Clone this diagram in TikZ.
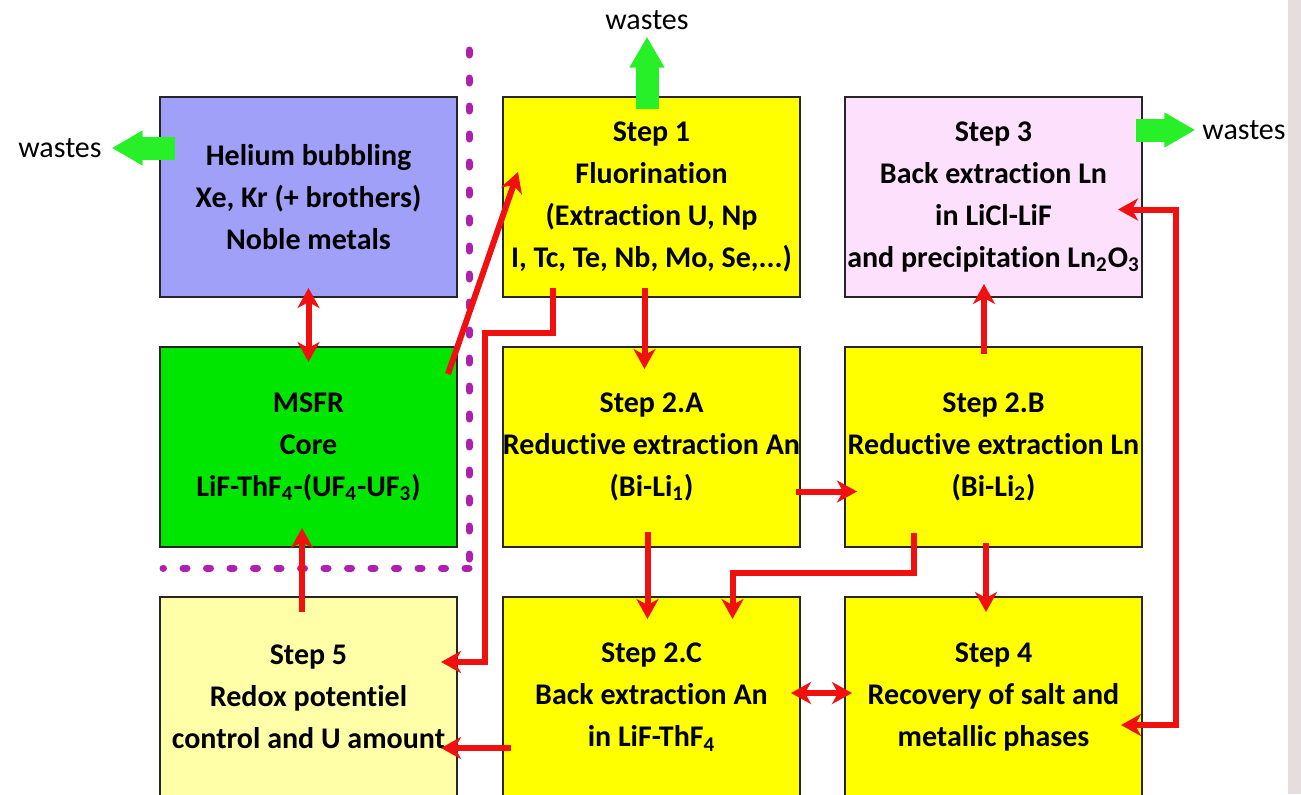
\documentclass[tikz,border=0pt]{standalone}
\usepackage{fontspec}
\setmainfont{Carlito}[Ligatures={TeX,NoCommon}]
\usepackage{tikz}
\usetikzlibrary{calc,arrows.meta,positioning}

\definecolor{heliumblue}{RGB}{160,160,248}
\definecolor{stepyellow}{RGB}{255,255,0}
\definecolor{paleyellow}{RGB}{255,255,168}
\definecolor{pinkstep}{RGB}{252,224,252}
\definecolor{coregreen}{RGB}{0,230,0}
\definecolor{wastegreen}{RGB}{40,240,40}
\definecolor{flowred}{RGB}{240,16,16}
\definecolor{sepviolet}{RGB}{176,32,176}
\definecolor{stripgrey}{RGB}{230,222,222}

\begin{document}
\begin{tikzpicture}[x=0.5pt,y=-0.5pt]

  % Parameters
  \def\wstep{148.5pt}
  \def\hstep{100pt}

  % Styles
  \tikzstyle{stepbox}=[draw=black!85,line width=1pt,minimum width=\wstep,minimum height=\hstep,inner sep=0pt,align=center,font=\bfseries\fontsize{15}{21}\selectfont]
  \tikzstyle{waste}=[font=\fontsize{15}{18}\selectfont]
  \tikzstyle{togreen}=[-{Triangle[length=15.5pt,width=16.5pt]},draw=wastegreen,line width=11.5pt]
  \tikzstyle{flow}=[-{Stealth[length=10pt,width=11pt,inset=3pt]},draw=flowred,line width=3pt]
  \tikzstyle{flowboth}=[flow,{Stealth[length=10pt,width=11pt,inset=3pt]}-{Stealth[length=10pt,width=11pt,inset=3pt]}]
  \tikzstyle{sepv}=[draw=sepviolet,line width=3.5pt,line cap=round,dash pattern=on 2.5pt off 11.5pt]
  \tikzstyle{seph}=[draw=sepviolet,line width=3.5pt,line cap=round,dash pattern=on 2pt off 9.75pt]

  % ===========================================================================

  \clip (0,0) rectangle (1301,794);
  \fill[stripgrey] (1288,0) rectangle (1301,794);

  % Draw boxes
  \node[stepbox,fill=heliumblue] (helium) at (308.5,197) {Helium bubbling\\Xe, Kr (+ brothers)\\Noble metals};
  \node[stepbox,fill=stepyellow,right=22pt of helium] (step1) {Step 1\\Fluorination\\(Extraction U, Np\\I, Tc, Te, Nb, Mo, Se,...)};
  \node[stepbox,fill=pinkstep,right=21.5pt of step1] (step3) {Step 3\\Back extraction Ln\\in LiCl-LiF\\and precipitation Ln\textsubscript{2}O\textsubscript{3}};
  \node[stepbox,fill=coregreen,below=24pt of helium] (msfr) {MSFR\\Core\\LiF-ThF\textsubscript{4}-(UF\textsubscript{4}-UF\textsubscript{3})};
  \node[stepbox,fill=stepyellow,below=24pt of step1] (stepA) {Step 2.A\\Reductive extraction An\\(Bi-Li\textsubscript{1})};
  \node[stepbox,fill=stepyellow,below=24pt of step3] (stepB) {Step 2.B\\Reductive extraction Ln\\(Bi-Li\textsubscript{2})};
  \node[stepbox,fill=paleyellow,below=24pt of msfr] (step5) {Step 5\\Redox potentiel\\control and U amount};
  \node[stepbox,fill=stepyellow,below=24pt of stepA] (stepC) {Step 2.C\\Back extraction An\\in LiF-ThF\textsubscript{4}};
  \node[stepbox,fill=stepyellow,below=24pt of stepB] (step4) {Step 4\\Recovery of salt and\\metallic phases};

  % Draw wastes
  \node[waste] (wasteL) at (60,148) {wastes};
  \node[waste] (wasteT) at (647,20) {wastes};
  \node[waste] (wasteR) at (1244,130) {wastes};
  \draw[togreen] ([xshift=8pt]helium.west |- wasteL.east) -- ([xshift=1.5pt]wasteL.east);
  \draw[togreen] ([yshift=-6.5pt]step1.north -| wasteT.south) -- (wasteT.south);
  \draw[togreen] ([xshift=-3.5pt]step3.east |- wasteR.west) -- (wasteR.west);

  % Draw separator
  \coordinate (septop) at (469,50);
  \coordinate (sepcorner) at (469,568);
  \coordinate (sepend) at (163,568);
  \draw[sepv] (septop) -- (sepcorner);
  \draw[seph] (sepcorner) -- (sepend);

  % Draw flows
  \draw[flowboth] ([yshift=5pt]helium.south) -- ([yshift=-8pt]msfr.north);
  \draw[flow] ([xshift=-5pt,yshift=-14pt]msfr.north east) -- ([xshift=8pt,yshift=-38pt]step1.north west);
  \draw[flow] ([xshift=-3.5pt,yshift=5pt]step1.south) -- ([xshift=-3.5pt,yshift=-11.5pt]stepA.north);
  \draw[flow] ([xshift=-49.5pt,yshift=5pt]step1.south) -- ++(0,45) -| ([xshift=13.5pt,yshift=17.5pt]step5.east) -- ([xshift=-8.5pt,yshift=17.5pt]step5.east);
  \draw[flow] ([xshift=-2.5pt,yshift=-22.25pt]stepA.east) -- ([xshift=6.5pt,yshift=-22.25pt]stepB.west);
  \draw[flow] ([xshift=-2pt,yshift=8pt]stepA.south) -- ([xshift=-2pt,yshift=-11.5pt]stepC.north);
  \draw[flow] ([xshift=-39.75pt,yshift=7.5pt]stepB.south) -- ++(0,40) -| ([xshift=40.5pt,yshift=-11.5pt]stepC.north);
  \draw[flow] ([xshift=-3.75pt,yshift=2.5pt]stepB.south) -- ([xshift=-3.75pt,yshift=-8pt]step4.north);
  \draw[flow] ([xshift=-4.75pt,yshift=-4pt]stepB.north) -- ([xshift=-4.75pt,yshift=7pt]step3.south);
  \draw[flowboth] ([xshift=-5pt,yshift=2pt]stepC.east) -- ([xshift=4pt,yshift=2pt]step4.west);
  \draw[flowboth] ([xshift=-12.5pt,yshift=-6.25pt]step3.east) -- ++(58,0) |- ([xshift=-11pt,yshift=-14pt]step4.east);
  \draw[flow] ([xshift=-3.25pt,yshift=-8pt]step5.north) -- ([xshift=-3.25pt,yshift=10pt]msfr.south);
  \draw[flow] ([xshift=4.5pt,yshift=-25.5pt]stepC.west) -- ([xshift=-8.5pt,yshift=-25.5pt]step5.east);

\end{tikzpicture}
\end{document}
